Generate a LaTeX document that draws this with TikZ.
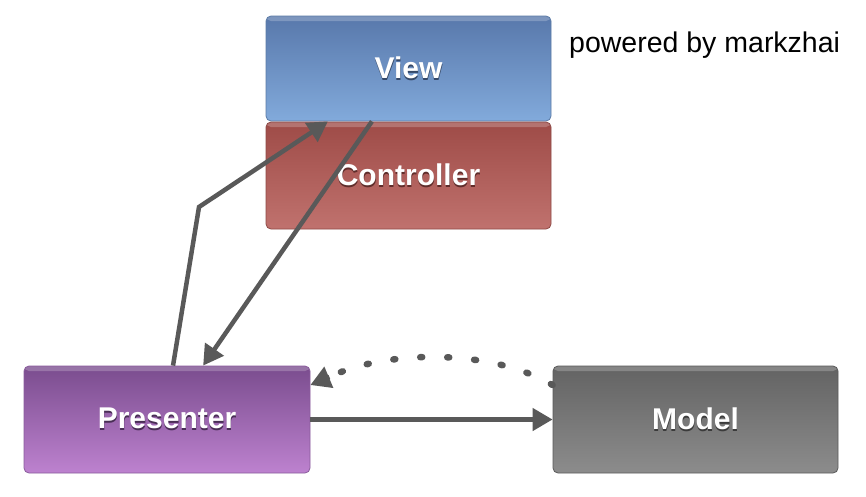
\documentclass[tikz,border=0pt]{standalone}
\usepackage{fontspec}
\setmainfont{Liberation Sans}
\usetikzlibrary{arrows.meta,calc}
\definecolor{linecol}{HTML}{595959}
\definecolor{vtop}{HTML}{5878AB}\definecolor{vbot}{HTML}{82AADB}\definecolor{vbrd}{HTML}{5B7BA6}
\definecolor{ctop}{HTML}{9E4B47}\definecolor{cbot}{HTML}{C0726E}\definecolor{cbrd}{HTML}{8E4A46}
\definecolor{ptop}{HTML}{7A4C8E}\definecolor{pbot}{HTML}{BD82CF}\definecolor{pbrd}{HTML}{8A5C9C}
\definecolor{mtop}{HTML}{636363}\definecolor{mbot}{HTML}{8C8C8C}\definecolor{mbrd}{HTML}{5A5A5A}
\newcommand\shadowtxt[2]{\rlap{\raisebox{-1.6pt}{\hspace{0.3pt}\textcolor{#1}{#2}}}#2}
\begin{document}
\begin{tikzpicture}[x=1pt,y=-1pt,
  box/.style={rounded corners=5pt, minimum width=285pt, inner sep=0pt, text=white,
    font=\fontsize{30pt}{36pt}\selectfont\bfseries, line width=0.8pt,
    path picture={\fill[white,opacity=0.22] (path picture bounding box.north west) rectangle ([yshift=-5pt]path picture bounding box.north east);}},
  conn/.style={draw=linecol, line width=4.5pt, -{Triangle[length=20pt,width=22pt]}},
  dotline/.style={draw=linecol, line width=6.5pt, line cap=round, dash pattern=on 2pt off 25pt}]
\useasboundingbox[fill=white] (0,0) rectangle (866,496);

\node[box, minimum height=105pt, top color=vtop, bottom color=vbot, draw=vbrd] (V) at (408.5,68.5) {\shadowtxt{vtop!60!black}{View}};
\node[box, minimum height=107pt, top color=ctop, bottom color=cbot, draw=cbrd] (C) at (408.5,175.5) {\shadowtxt{ctop!60!black}{Controller}};
\node[box, minimum width=286pt, minimum height=107pt, top color=ptop, bottom color=pbot, draw=pbrd] (P) at (167,419.5) {\shadowtxt{ptop!60!black}{Presenter}};
\node[box, minimum height=107pt, top color=mtop, bottom color=mbot, draw=mbrd] (M) at (695.5,419.5) {\shadowtxt{mtop!60!black}{Model}};

\node[anchor=base west, inner sep=0pt, font=\fontsize{28.5pt}{34pt}\selectfont] (pw) at (569,52) {powered by markzhai};

\coordinate (bend) at (199,207);
\draw[conn] ($(P.north west)!0.521!(P.north east)$) -- (bend) -- ($(V.south west)!0.218!(V.south east)$);
\draw[conn] ($(V.south west)!0.372!(V.south east)$) -- ($(P.north west)!0.626!(P.north east)$);
\draw[conn] (P.east) -- (M.west);
\coordinate (dS) at ($(M.north west)!0.18!(M.south west)$);
\coordinate (dE) at ($(P.north east)!0.18!(P.south east)$);
\coordinate (dP) at ($(dE)+(19,-8)$);
\draw[dotline] (dS) .. controls (490,348) and (385,350) .. (dP);
\draw[conn] (dP) -- (dE);
\end{tikzpicture}
\end{document}
